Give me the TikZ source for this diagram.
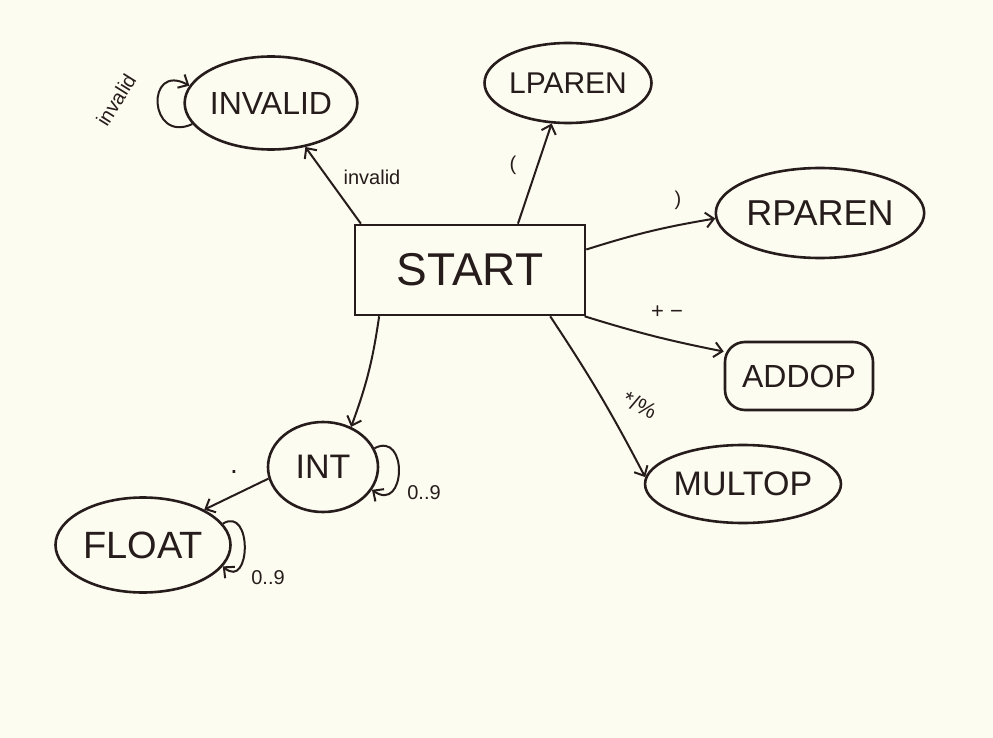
\documentclass[tikz,border=0pt]{standalone}
\usepackage{fontspec}
\setmainfont{Liberation Sans}
\usetikzlibrary{shapes.geometric,arrows.meta}
\definecolor{paper}{RGB}{253,252,240}
\definecolor{ink}{RGB}{38,28,28}
\begin{document}
\begin{tikzpicture}[x=1pt,y=-1pt,
  every node/.style={text=ink},
  state/.style={ellipse, draw=ink, line width=2.6pt, inner sep=0pt},
  box/.style={rectangle, draw=ink, line width=2.6pt, inner sep=0pt},
  rbox/.style={rectangle, rounded corners=20pt, draw=ink, line width=2.6pt, inner sep=0pt},
  arr/.style={draw=ink, line width=2pt, -{Straight Barb[length=8pt,width=15pt,line width=2pt]}},
  lbl/.style={font=\fontsize{20}{22}\selectfont},
  big/.style={font=\fontsize{#1}{#1}\selectfont}]
\fill[paper] (0,0) rectangle (993,738);
\useasboundingbox (0,0) rectangle (993,738);

\node[box, minimum width=230, minimum height=90, big=46] (start) at (470,270) {START};
\node[state, minimum width=152, minimum height=93, big=32] (inv) at (271,103) {INVALID};
\node[state, minimum width=167, minimum height=80, big=30] (lp) at (568,83) {LPAREN};
\node[state, minimum width=195, minimum height=90, big=36] (rp) at (820,213) {RPAREN};
\node[rbox, minimum width=148, minimum height=68, big=32] (add) at (799,376) {ADDOP};
\node[state, minimum width=190, minimum height=78, big=34] (mul) at (743,484) {MULTOP};
\node[state, minimum width=110, minimum height=90, big=34] (int) at (323,467) {INT};
\node[state, minimum width=175, minimum height=95, big=38] (flt) at (143,545) {FLOAT};

% self loops
\draw[arr] (inv.195) .. controls +(-44,20) and +(-44,-24) .. (inv.168);
\node[lbl, rotate=58] (l0) at (116,100) {invalid};
\draw[arr] (int.20) .. controls +(34,-18) and +(34,24) .. (int.-25);
\node[lbl] (l1) at (424,493) {0..9};
\draw[arr] (flt.15) .. controls +(30,-18) and +(28,24) .. (flt.-15);
\node[lbl] (l2) at (268,578) {0..9};

% edges from START
\draw[arr] (start.157) -- (inv.-52);
\node[lbl] (l3) at (372,177) {invalid};
\draw[arr] (start.44) -- (lp.-112);
\node[lbl] (l4) at (513,165) {(};
\draw[arr] (start.10) to[bend left=4] (rp.183);
\node[lbl] (l5) at (678,200) {)};
\draw[arr] (start.-22) to[bend right=3] (add.162);
\node[lbl, font=\fontsize{22}{22}\selectfont] (l6) at (667,312) {+ −};
\draw[arr] (start.-30) to[bend left=3] (mul.176);
\node[lbl, rotate=-25, font=\fontsize{22}{22}\selectfont] (l7) at (640,405) {*/\%};
\draw[arr] (start.207) to[bend left=6] (int.55);
\draw[arr] (int.192) -- (flt.30);
\node[lbl, font=\fontsize{28}{28}\selectfont] (l8) at (234,472) {.};
\end{tikzpicture}
\end{document}
